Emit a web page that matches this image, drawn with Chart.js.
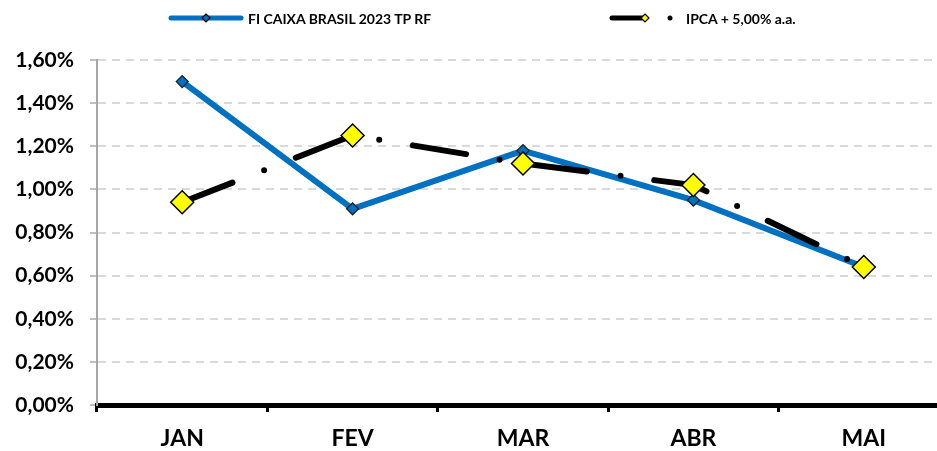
<!DOCTYPE html>
<html>
<head>
<meta charset="utf-8">
<script src="https://cdn.jsdelivr.net/npm/chart.js@4/dist/chart.umd.min.js"></script>
<style>
    html, body { margin: 0; padding: 0; background: #fff; overflow: hidden; }
    #wrap { position: relative; width: 937px; height: 451px; overflow: hidden; }
    #rentChart { position: absolute; left: 0; top: 0; }
    .legend { position: absolute; top: 9px; font-family: Lato, sans-serif; font-weight: bold; font-size: 14px; color: #000; display: flex; align-items: center; white-space: nowrap; }
    .legend svg { display: block; }
</style>
</head>
<body>
<div id="wrap">
    <!-- canvas is wider than the window: the last x label reserves ~17px on the right -->
    <canvas id="rentChart" width="962" height="451"></canvas>
    <div class="legend" style="left:168px;">
        <svg width="76" height="18"><line x1="3" y1="9" x2="73" y2="9" stroke="#0070C0" stroke-width="5" stroke-linecap="round"/><polygon points="38,5 42,9 38,13 34,9" fill="#0070C0" stroke="#000" stroke-width="1.2"/></svg>
        <span style="margin-left:4px;">FI CAIXA BRASIL 2023 TP RF</span>
    </div>
    <div class="legend" style="left:608px;">
        <svg width="68" height="18"><line x1="4" y1="9" x2="34" y2="9" stroke="#000" stroke-width="5" stroke-linecap="round"/><polygon points="37,5 41,9 37,13 33,9" fill="#FFFF00" stroke="#000" stroke-width="1.2"/><circle cx="62" cy="9" r="2.5" fill="#000"/></svg>
        <span style="margin-left:10px;">IPCA + 5,00% a.a.</span>
    </div>
</div>
<script>
    // valores (em %)
    const months = ['JAN', 'FEV', 'MAR', 'ABR', 'MAI'];
    const fundoCaixa = [1.50, 0.91, 1.18, 0.95, 0.64];
    const ipcaMais5 = [0.94, 1.25, 1.12, 1.02, 0.64];
    const yTicks = [0, 0.2, 0.4, 0.6, 0.8, 1.0, 1.2, 1.4, 1.6];

    const pct = v => v.toFixed(2).replace('.', ',') + '%';

    const ctx = document.getElementById('rentChart').getContext('2d');
    new Chart(ctx, {
        type: 'line',
        data: {
            labels: months,
            datasets: [
                {
                    label: 'FI CAIXA BRASIL 2023 TP RF',
                    data: fundoCaixa,
                    order: 1,
                    borderColor: '#0070C0',
                    borderWidth: 6,
                    tension: 0,
                    pointStyle: 'rectRot',
                    pointRadius: 6,
                    pointBackgroundColor: '#0070C0',
                    pointBorderColor: '#1a1a1a',
                    pointBorderWidth: 1.2
                },
                {
                    label: 'IPCA + 5,00% a.a.',
                    data: ipcaMais5,
                    order: 0,
                    borderColor: '#000',
                    borderWidth: 6,
                    borderCapStyle: 'round',
                    borderDash: [54, 34, 0, 34],
                    tension: 0,
                    pointStyle: 'rectRot',
                    pointRadius: 11.5,
                    pointBackgroundColor: '#FFFF00',
                    pointBorderColor: '#000',
                    pointBorderWidth: 1.5
                }
            ]
        },
        options: {
            responsive: false,
            animation: false,
            layout: { padding: { top: 60, right: 0, left: 0, bottom: 0 } },
            plugins: {
                legend: { display: false },
                tooltip: { enabled: false }
            },
            scales: {
                x: {
                    offset: true,
                    afterFit: scale => { scale.height = 46; },
                    grid: {
                        offset: true,
                        drawOnChartArea: false,
                        drawTicks: true,
                        tickLength: 7,
                        tickColor: '#000',
                        lineWidth: 3
                    },
                    border: { color: '#000', width: 5 },
                    ticks: {
                        color: '#000',
                        padding: 13,
                        font: { family: 'Lato', weight: 'bold', size: 23 }
                    }
                },
                y: {
                    min: 0,
                    max: 1.6,
                    afterFit: scale => { scale.width = 97; },
                    afterBuildTicks: scale => { scale.ticks = yTicks.map(v => ({ value: v })); },
                    grid: {
                        color: '#d9d9d9',
                        lineWidth: 2,
                        tickLength: 7,
                        tickColor: '#bfbfbf'
                    },
                    border: { color: '#a6a6a6', width: 2, dash: [8, 6] },
                    ticks: {
                        color: '#000',
                        padding: 16,
                        font: { family: 'Lato', weight: 'bold', size: 21 },
                        callback: value => pct(value)
                    }
                }
            }
        }
    });
</script>
</body>
</html>
